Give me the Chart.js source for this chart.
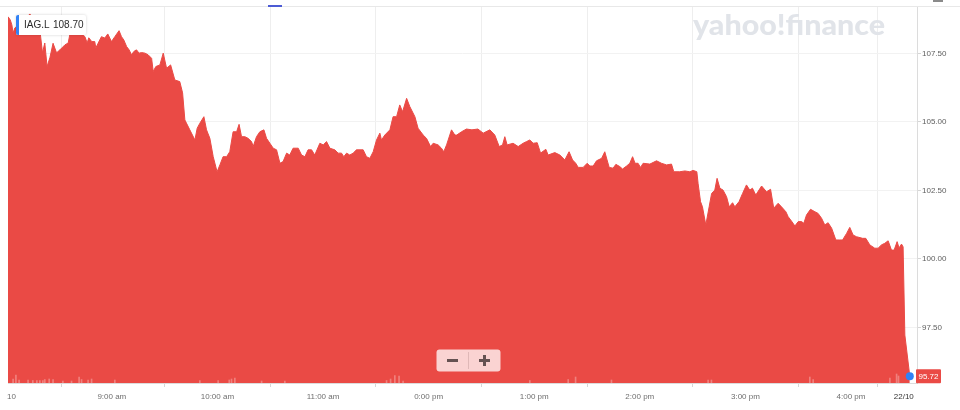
<!DOCTYPE html>
<html>
<head>
<meta charset="utf-8">
<script src="https://cdn.jsdelivr.net/npm/chart.js@4.4.1/dist/chart.umd.min.js"></script>
<style>
  html, body { margin: 0; padding: 0; background: #fff; }
  #wrap { position: relative; width: 960px; height: 410px; }
</style>
</head>
<body>
<div id="wrap"><canvas id="chart" width="960" height="410"></canvas></div>
<script>
// Minutes after 8:00 (London) and the price at that moment
const times = [
  1.0, 2.3, 3.2, 3.9, 4.9, 7.7, 10.6, 13.4, 16.3, 19.1, 20.6, 21.9, 23.2, 24.8, 26.6, 28.6, 30.5, 33.3, 35.2, 36.1,
  39.0, 41.8, 44.7, 46.0, 46.9, 48.6, 50.3, 50.9, 52.2, 54.1, 56.0, 57.7, 59.8, 61.7, 64.1, 65.5, 66.8, 68.4, 69.8, 71.2,
  72.5, 74.0, 75.5, 76.9, 78.8, 80.6, 82.6, 83.5, 85.0, 87.3, 89.2, 91.1, 93.4, 95.8, 98.6, 100.2, 101.5, 104.3, 107.2, 108.5,
  110.0, 112.3, 113.8, 115.7, 117.6, 119.8, 121.4, 123.2, 125.2, 127.0, 128.9, 130.9, 132.3, 133.7, 135.6, 137.4, 139.4, 140.3, 142.2, 144.1,
  146.4, 147.9, 149.8, 151.7, 153.6, 155.5, 157.3, 159.3, 161.1, 163.0, 165.9, 167.8, 169.7, 171.5, 173.5, 175.3, 178.2, 180.1, 182.0, 183.9,
  186.7, 188.6, 190.5, 191.8, 193.4, 195.2, 197.1, 199.0, 202.8, 204.7, 206.6, 208.5, 210.4, 212.3, 213.2, 215.1, 218.0, 219.8, 221.8, 223.6,
  225.2, 227.5, 229.3, 232.2, 234.0, 236.9, 238.8, 241.1, 242.6, 245.4, 247.3, 248.6, 250.2, 253.0, 254.9, 256.0, 258.7, 261.5, 264.6, 268.0,
  271.0, 274.8, 277.6, 280.1, 282.0, 283.3, 284.6, 288.0, 290.9, 293.7, 295.6, 297.5, 299.4, 301.7, 303.6, 306.6, 307.9, 311.7, 314.6, 317.4,
  319.8, 321.8, 323.6, 325.0, 327.8, 330.1, 331.6, 333.5, 335.4, 338.3, 340.1, 341.4, 342.6, 344.8, 346.4, 348.6, 350.2, 352.5, 354.3, 355.9,
  357.3, 359.0, 360.4, 361.9, 365.7, 369.5, 372.3, 375.2, 378.0, 379.3, 382.7, 385.6, 388.4, 390.3, 392.4, 393.1, 394.5, 395.6, 397.5, 399.4,
  400.8, 402.6, 403.9, 405.5, 407.3, 409.3, 410.8, 412.7, 414.0, 416.4, 418.4, 420.6, 422.5, 424.0, 425.9, 429.2, 432.0, 434.3, 436.1, 438.6,
  440.5, 443.0, 444.3, 447.1, 448.1, 450.0, 451.9, 453.2, 454.7, 457.0, 459.5, 461.3, 463.3, 465.1, 467.0, 469.0, 471.4, 473.3, 475.2, 477.5,
  479.3, 481.2, 483.1, 486.6, 488.4, 490.7, 493.5, 495.4, 497.3, 499.2, 501.1, 503.0, 504.5, 506.2, 507.3, 508.7, 509.6, 510.6, 513.4
];
const prices = [
  108.84, 108.72, 108.54, 108.24, 108.43, 108.58, 108.72, 108.94, 108.65, 108.36, 107.52, 107.88, 107.02, 107.34, 107.87, 107.52, 107.63, 107.81, 107.88, 108.18,
  108.36, 108.29, 108.11, 107.88, 108.07, 107.93, 107.93, 107.70, 107.87, 108.11, 108.06, 108.21, 107.93, 108.11, 108.33, 108.11, 107.99, 107.75, 107.63, 107.45,
  107.57, 107.63, 107.51, 107.53, 107.51, 107.45, 107.32, 106.84, 107.02, 107.08, 107.51, 106.96, 107.08, 106.53, 106.47, 106.06, 105.07, 104.71, 104.34, 104.77,
  104.95, 105.19, 104.71, 104.40, 103.73, 103.18, 103.43, 103.73, 103.73, 103.91, 104.64, 104.64, 104.91, 104.46, 104.46, 104.40, 104.28, 104.10, 104.46, 104.64,
  104.71, 104.40, 104.22, 104.04, 103.98, 103.49, 103.55, 103.86, 103.79, 104.04, 104.04, 103.79, 103.73, 103.98, 103.98, 103.79, 104.22, 104.16, 104.28, 104.04,
  103.98, 103.86, 103.86, 103.73, 103.86, 103.79, 103.86, 103.98, 103.98, 103.73, 103.67, 103.91, 104.34, 104.59, 104.34, 104.52, 104.71, 105.19, 105.19, 105.62,
  105.37, 105.86, 105.56, 105.19, 104.77, 104.52, 104.40, 104.10, 104.22, 104.16, 104.04, 103.91, 104.16, 104.71, 104.52, 104.52, 104.64, 104.74, 104.71, 104.74,
  104.59, 104.71, 104.52, 104.10, 104.16, 104.46, 104.16, 104.22, 104.10, 104.22, 104.28, 104.34, 104.22, 104.24, 103.86, 104.00, 103.79, 103.88, 103.79, 103.61,
  103.91, 103.61, 103.49, 103.34, 103.34, 103.49, 103.39, 103.39, 103.58, 103.67, 103.91, 103.61, 103.34, 103.31, 103.45, 103.37, 103.28, 103.39, 103.49, 103.73,
  103.49, 103.49, 103.34, 103.49, 103.46, 103.58, 103.49, 103.43, 103.46, 103.18, 103.18, 103.21, 103.18, 103.23, 103.18, 102.76, 102.09, 101.90, 101.24, 101.90,
  102.39, 102.51, 102.94, 102.58, 102.51, 102.27, 101.90, 102.05, 101.90, 102.09, 102.39, 102.70, 102.51, 102.58, 102.33, 102.66, 102.45, 102.54, 101.85, 102.03,
  101.90, 101.72, 101.54, 101.30, 101.20, 101.36, 101.36, 101.30, 101.60, 101.81, 101.72, 101.66, 101.48, 101.24, 101.32, 101.12, 100.69, 100.69, 100.69, 100.93,
  101.15, 100.87, 100.81, 100.75, 100.75, 100.51, 100.39, 100.39, 100.51, 100.57, 100.66, 100.32, 100.32, 100.63, 100.40, 100.54, 100.44, 97.22, 95.72
];

// Volume spikes (thousand shares)
const volTimes = [3.9, 5.5, 7.3, 12.4, 15.1, 17.4, 19.1, 20.8, 21.9, 24.4, 26.6, 32.2, 37.1, 41.4, 42.8, 46.5, 48.5, 61.7, 110.0, 120.4,
  126.7, 128.0, 129.9, 145.1, 158.3, 216.1, 218.4, 220.8, 223.2, 225.5, 297.5, 319.3, 323.5, 343.9, 398.8, 400.7, 456.6, 458.5, 502.1, 505.9, 507.0];
const volumes = [240, 480, 180, 180, 150, 150, 150, 150, 210, 240, 210, 120, 120, 360, 210, 180, 240, 180, 150, 150,
  180, 240, 300, 120, 120, 150, 240, 450, 420, 120, 150, 210, 360, 180, 180, 180, 360, 210, 300, 540, 420];

const xTickMinutes = [3, 60, 120, 180, 240, 300, 360, 420, 480, 510];
const xTickLabels = ['10', '9:00 am', '10:00 am', '11:00 am', '0:00 pm', '1:00 pm', '2:00 pm', '3:00 pm', '4:00 pm', '22/10'];
const yTicks = [97.5, 100, 102.5, 105, 107.5];

const symbol = 'IAG.L';
const headerPrice = '108.70';
const closePrice = 95.72;

const RED = '#ea4a45';
const BLUE = '#3182f6';
const AXIS_FONT = { family: '"Liberation Sans", Arial, sans-serif', size: 8 };

const pricePoints = times.map((t, i) => ({ x: t, y: prices[i] }));
const volumePoints = volTimes.map((t, i) => ({ x: t, y: volumes[i] }));

// Decorations around the plot: watermark, header tag, close tag, zoom buttons
const decorations = {
  id: 'decorations',
  beforeDatasetsDraw(chart) {
    const ctx = chart.ctx;
    ctx.save();
    ctx.font = '900 29px Lato, sans-serif';
    ctx.fillStyle = '#e1e4e9';
    ctx.textBaseline = 'alphabetic';
    const text = 'yahoo!finance';
    const w = ctx.measureText(text).width;
    ctx.translate(693, 35);
    ctx.scale(192 / w, 1);
    ctx.fillText(text, 0, 0);
    ctx.restore();
  },
  afterDraw(chart) {
    const ctx = chart.ctx;
    const y = chart.scales.y;
    const area = chart.chartArea;
    ctx.save();

    // top rule and little markers in the header strip
    ctx.fillStyle = '#e8e8e8';
    ctx.fillRect(0, 6, 960, 1);
    ctx.fillStyle = '#4c5bd4';
    ctx.fillRect(268, 5, 14, 2);
    ctx.fillStyle = '#8a8a8a';
    ctx.fillRect(933, 0, 10, 2);

    // symbol tag
    ctx.shadowColor = 'rgba(0,0,0,0.18)';
    ctx.shadowBlur = 3;
    ctx.fillStyle = '#fff';
    ctx.beginPath();
    ctx.roundRect(16, 15, 70, 20, 2);
    ctx.fill();
    ctx.shadowBlur = 0;
    ctx.shadowColor = 'transparent';
    ctx.fillStyle = BLUE;
    ctx.beginPath();
    ctx.roundRect(16, 15, 3, 20, [2, 0, 0, 2]);
    ctx.fill();
    ctx.fillStyle = '#2b2b2b';
    ctx.font = '10px "Liberation Sans", Arial, sans-serif';
    ctx.textBaseline = 'middle';
    ctx.fillText(symbol, 24, 25.5);
    ctx.fillText(headerPrice, 53, 25.5);

    // close price tag on the right axis
    const cy = y.getPixelForValue(closePrice);
    ctx.fillStyle = RED;
    ctx.beginPath();
    ctx.roundRect(area.right - 1, cy - 7, 25, 14, 1);
    ctx.fill();
    ctx.fillStyle = '#fff';
    ctx.font = '8px "Liberation Sans", Arial, sans-serif';
    ctx.textAlign = 'center';
    ctx.fillText(closePrice.toFixed(2), area.right + 11.5, cy + 0.5);

    // zoom buttons
    ctx.fillStyle = 'rgba(255,255,255,0.76)';
    ctx.beginPath();
    ctx.roundRect(436.5, 349.5, 64, 22, 3);
    ctx.fill();
    ctx.fillStyle = 'rgba(190,150,150,0.45)';
    ctx.fillRect(468, 352, 1, 17);
    ctx.fillStyle = '#655252';
    ctx.fillRect(447, 359, 11, 3);
    ctx.fillRect(479, 359, 11, 3);
    ctx.fillRect(483, 355, 3, 11);
    ctx.restore();
  }
};

const options = {
  responsive: false,
  animation: false,
  events: [],
  layout: { padding: { left: 8, top: 6, right: 0, bottom: 0 } },
  plugins: {
    legend: { display: false },
    tooltip: { enabled: false },
  },
  scales: {
    x: {
      type: 'linear',
      min: 1,
      max: 517.5,
      offset: false,
      afterBuildTicks: (scale) => { scale.ticks = xTickMinutes.map(v => ({ value: v })); },
      afterFit: (scale) => { scale.height = 27; },
      ticks: {
        autoSkip: false,
        maxRotation: 0,
        padding: 5,
        font: AXIS_FONT,
        color: (c) => (c.index === xTickLabels.length - 1 ? '#333' : '#6e6e6e'),
        callback: (value, index) => xTickLabels[index],
      },
      grid: {
        color: (c) => (c.index === 0 ? 'rgba(0,0,0,0)' : '#eeeeee'),
        tickColor: (c) => (c.index === 0 ? 'rgba(0,0,0,0)' : '#d6d6d6'),
        tickLength: 4,
      },
      border: { color: '#dcdcdc' },
    },
    y: {
      position: 'right',
      min: 95.47,
      max: 109.23,
      afterBuildTicks: (scale) => { scale.ticks = yTicks.map(v => ({ value: v })); },
      afterFit: (scale) => { scale.width = 43; },
      ticks: {
        padding: 1,
        font: AXIS_FONT,
        color: '#5e5e5e',
        callback: (value) => Number(value).toFixed(2),
      },
      grid: { color: '#f2f2f2', tickColor: '#d6d6d6', tickLength: 4 },
      border: { color: '#dcdcdc' },
    },
    yVol: {
      display: false,
      min: 0,
      max: 22600,
    },
  },
};

new Chart(document.getElementById('chart').getContext('2d'), {
  type: 'line',
  data: {
    datasets: [
      {
        type: 'bar',
        label: 'Volume',
        data: volumePoints,
        yAxisID: 'yVol',
        backgroundColor: 'rgba(255,255,255,0.3)',
        barThickness: 1,
        order: 0,
      },
      {
        label: symbol,
        data: pricePoints,
        borderColor: RED,
        backgroundColor: RED,
        borderWidth: 1,
        tension: 0,
        fill: 'start',
        pointRadius: (c) => (c.dataIndex === prices.length - 1 ? 4 : 0),
        pointBackgroundColor: BLUE,
        pointBorderWidth: 0,
        order: 1,
      },
    ],
  },
  options: options,
  plugins: [decorations],
});
</script>
</body>
</html>
